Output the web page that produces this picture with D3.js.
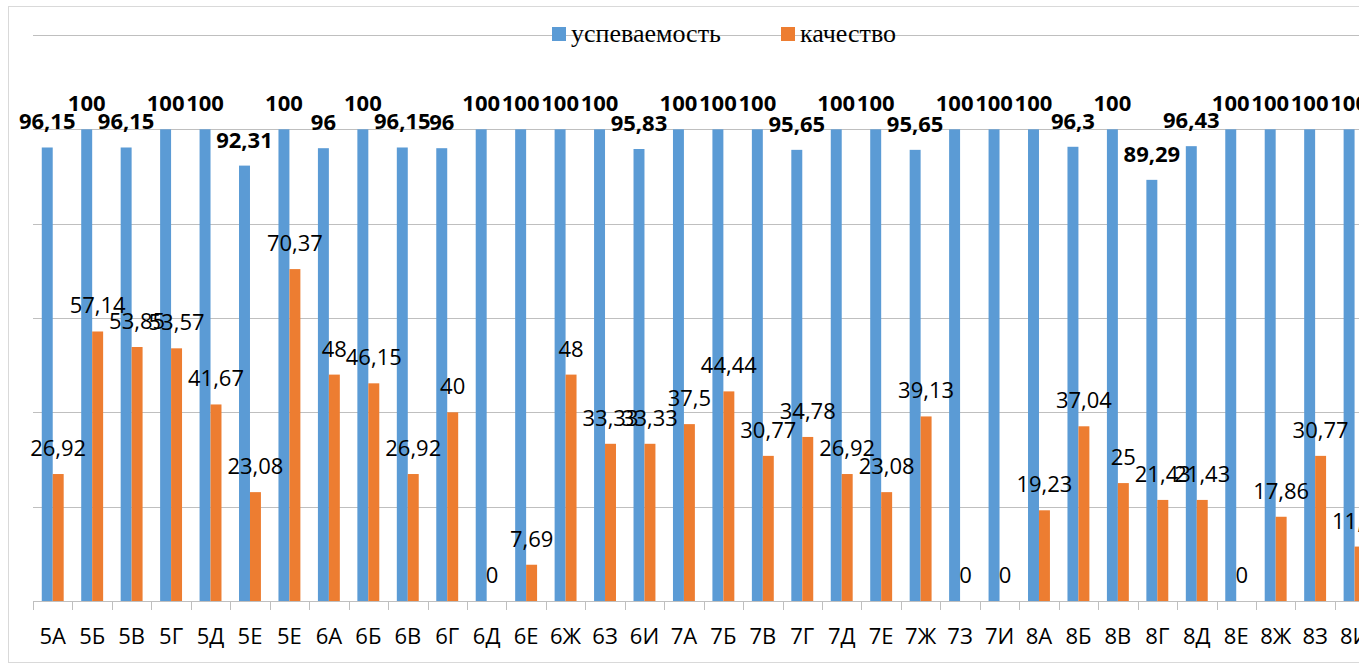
<!DOCTYPE html>
<html lang="ru">
<head>
<meta charset="utf-8">
<title>успеваемость и качество</title>
<script src="https://d3js.org/d3.v7.min.js"></script>
<style>
  body { margin: 0; background: #fff; }
  svg { display: block; }
  .grid line { stroke: #BFBFBF; stroke-width: 1; shape-rendering: crispEdges; }
  .axis path, .axis line { stroke: #BFBFBF; shape-rendering: crispEdges; }
  .axis text { font-family: "Open Sans", sans-serif; font-size: 22px; fill: #000; }
  .lbl { font-family: "Open Sans", sans-serif; font-size: 22px; fill: #000; }
  .lbl.bold { font-weight: bold; }
  .legend text { font-family: "Liberation Serif", serif; font-size: 26px; fill: #000; }
</style>
</head>
<body>
<svg id="chart"></svg>
<script>
// classes
var classes = ["5А","5Б","5В","5Г","5Д","5Е","5Е","6А","6Б","6В","6Г","6Д","6Е","6Ж","6З","6И",
               "7А","7Б","7В","7Г","7Д","7Е","7Ж","7З","7И","8А","8Б","8В","8Г","8Д","8Е","8Ж","8З","8И"];

// успеваемость, %
var uspevaemost = [96.15,100,96.15,100,100,92.31,100,96,100,96.15,96,100,100,100,100,95.83,
                   100,100,100,95.65,100,100,95.65,100,100,100,96.3,100,89.29,96.43,100,100,100,100];

// качество, %
var kachestvo = [26.92,57.14,53.85,53.57,41.67,23.08,70.37,48,46.15,26.92,40,0,7.69,48,33.33,33.33,
                 37.5,44.44,30.77,34.78,26.92,23.08,39.13,0,0,19.23,37.04,25,21.43,21.43,0,17.86,30.77,11.54];

var seriesNames = ["успеваемость", "качество"];
var yTicks = [0, 20, 40, 60, 80, 100, 120];

var W = 1359, H = 664;
var colors = {"успеваемость": "#5B9BD5", "качество": "#ED7D31"};

var svg = d3.select("#chart").attr("width", W).attr("height", H);

// chart border (left/top/bottom visible, right is cut off)
svg.append("rect")
    .attr("x", 8.5).attr("y", 6.5)
    .attr("width", W + 20).attr("height", 656)
    .attr("fill", "none").attr("stroke", "#D9D9D9");

var left = 33, step = 39.45;
var x = d3.scaleBand().domain(d3.range(classes.length))
    .range([left, left + step * classes.length]).padding(0);
var x1 = d3.scaleBand().domain(seriesNames)
    .range([0, x.bandwidth()]).paddingInner(0).paddingOuter(0.8);
var y = d3.scaleLinear().domain([0, 120]).range([601, 35]);

// gridlines
svg.append("g").attr("class", "grid")
  .selectAll("line").data(yTicks.filter(function(t) { return t > 0; }))
  .enter().append("line")
    .attr("x1", left).attr("x2", W + 20)
    .attr("y1", function(d) { return Math.round(y(d)) + 0.5; })
    .attr("y2", function(d) { return Math.round(y(d)) + 0.5; });

var rows = classes.map(function(c, i) {
  return {i: i, values: [
    {s: "успеваемость", v: uspevaemost[i]},
    {s: "качество", v: kachestvo[i]}
  ]};
});

var groups = svg.append("g").selectAll("g").data(rows).enter().append("g")
    .attr("transform", function(d) { return "translate(" + x(d.i) + ",0)"; });

groups.selectAll("rect").data(function(d) { return d.values; }).enter().append("rect")
    .attr("x", function(d) { return x1(d.s); })
    .attr("width", x1.bandwidth())
    .attr("y", function(d) { return y(d.v); })
    .attr("height", function(d) { return y(0) - y(d.v); })
    .attr("fill", function(d) { return colors[d.s]; });

// x axis
var xAxis = d3.axisBottom(x).tickSize(0).tickFormat(function(i) { return classes[i]; });
var gx = svg.append("g").attr("class", "axis")
    .attr("transform", "translate(0," + (Math.round(y(0)) + 0.5) + ")")
    .call(xAxis);
gx.select(".domain").attr("d", "M" + left + ",0H" + (W + 20));
gx.selectAll(".tick text").attr("dy", 0).attr("y", 42);
// tick marks between categories
gx.selectAll(".sep").data(d3.range(classes.length + 1)).enter().append("line")
    .attr("class", "sep")
    .attr("x1", function(i) { return Math.round(left + i * step) + 0.5; })
    .attr("x2", function(i) { return Math.round(left + i * step) + 0.5; })
    .attr("y1", 0).attr("y2", 8);

// data labels (drawn series by series, like Excel)
seriesNames.forEach(function(s) {
  var vals = s === "успеваемость" ? uspevaemost : kachestvo;
  svg.append("g").selectAll("text").data(vals).enter().append("text")
      .attr("class", s === "успеваемость" ? "lbl bold" : "lbl")
      .attr("text-anchor", "middle")
      .attr("x", function(d, i) { return x(i) + x1(s) + x1.bandwidth() / 2; })
      .attr("y", function(d) { return y(d) - 18; })
      .text(function(d) { return String(d).replace(".", ","); });
});

// legend
var legend = svg.append("g").attr("class", "legend");
var legX = [552, 781];
seriesNames.forEach(function(s, i) {
  var g = legend.append("g").attr("transform", "translate(" + legX[i] + ",27)");
  g.append("rect").attr("width", 14).attr("height", 14).attr("fill", colors[s]);
  g.append("text").attr("x", 19).attr("y", 15).text(s);
});
</script>
</body>
</html>
